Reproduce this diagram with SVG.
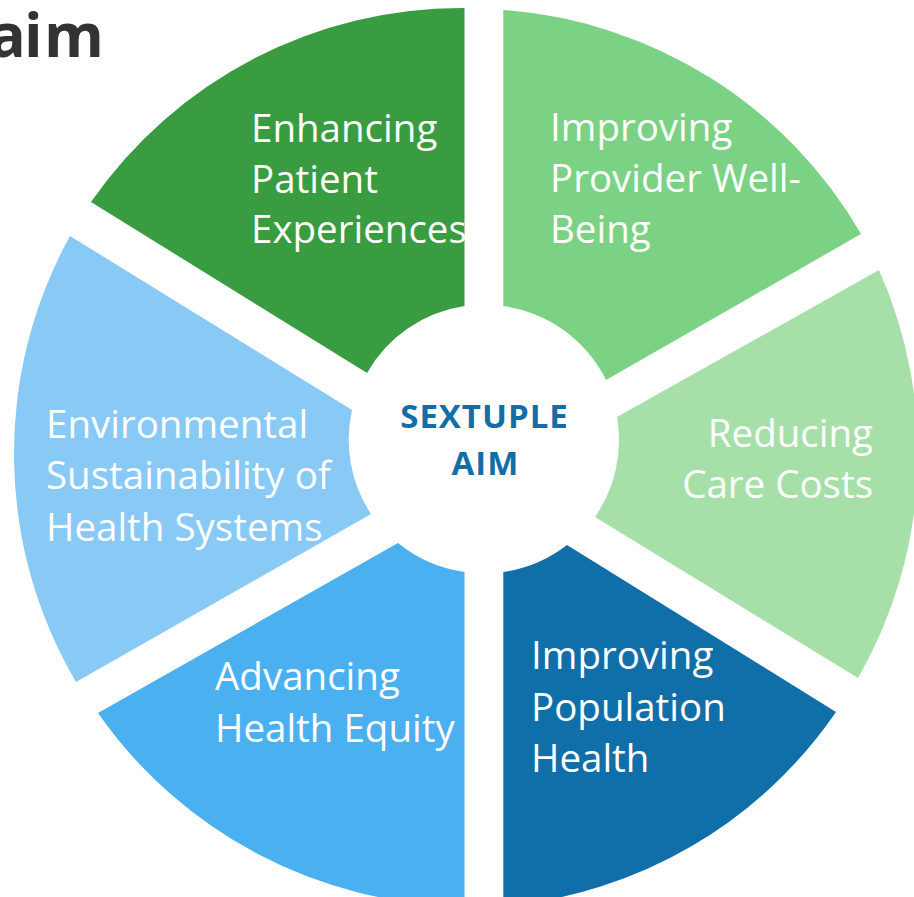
<svg xmlns="http://www.w3.org/2000/svg" width="914" height="897" viewBox="0 0 914 897">
<style>
.lbl{font-family:"Open Sans","Liberation Sans",sans-serif;font-size:38.5px;fill:#ffffff}
.ctr{font-family:"Open Sans","Liberation Sans",sans-serif;font-size:33px;font-weight:bold;fill:#136ea8;text-anchor:middle;letter-spacing:1px}
.ttl{font-family:"Open Sans","Liberation Sans",sans-serif;font-size:61px;font-weight:bold;fill:#333333}
</style>
<rect width="914" height="897" fill="#ffffff"/>
<text class="ttl" x="-11 24 44" y="57">aim</text>
<g id="seg-patient">
<path d="M464.5,8 A451,451 0 0,0 91,202 L367,373 A135,135 0 0,1 464.5,306 Z" fill="#399c40"/>
<text class="lbl"><tspan x="251" y="142">Enhancing</tspan><tspan x="251" y="193">Patient</tspan><tspan x="251" y="243">Experiences</tspan></text>
</g>
<g id="seg-provider">
<path d="M503.3,10 A451,451 0 0,1 861,234 L606,380 A135,135 0 0,0 503.3,306 Z" fill="#7bd284"/>
<text class="lbl"><tspan x="550" y="141">Improving</tspan><tspan x="550" y="192">Provider Well-</tspan><tspan x="550" y="243">Being</tspan></text>
</g>
<g id="seg-costs">
<path d="M879,270 A451,451 0 0,1 858,678 L595,517 A135,135 0 0,0 617,417 Z" fill="#a6e0a8"/>
<text class="lbl" text-anchor="end"><tspan x="873" y="447">Reducing</tspan><tspan x="873" y="498">Care Costs</tspan></text>
</g>
<g id="seg-population">
<path d="M836,712 A451,451 0 0,1 503.3,906 L503.3,572 A135,135 0 0,0 567,545 Z" fill="#106ea8"/>
<text class="lbl"><tspan x="531" y="669">Improving</tspan><tspan x="531" y="721">Population</tspan><tspan x="531" y="772">Health</tspan></text>
</g>
<g id="seg-equity">
<path d="M464.5,572 L464.5,906 A451,451 0 0,1 98,713 L398,543 A135,135 0 0,0 464.5,572 Z" fill="#4ab0f0"/>
<text class="lbl"><tspan x="215" y="690">Advancing</tspan><tspan x="215" y="742">Health Equity</tspan></text>
</g>
<g id="seg-environment">
<path d="M76,682 A451,451 0 0,1 70,236 L352,410 A135,135 0 0,0 371,514 Z" fill="#88caf5"/>
<text class="lbl"><tspan x="46" y="438">Environmental</tspan><tspan x="46" y="489">Sustainability of</tspan><tspan x="46" y="541">Health Systems</tspan></text>
</g>
<g id="center">
<text class="ctr"><tspan x="484.5" y="428">SEXTUPLE</tspan><tspan x="485.5" y="475">AIM</tspan></text>
</g>
<g id="connectors"></g>
</svg>
